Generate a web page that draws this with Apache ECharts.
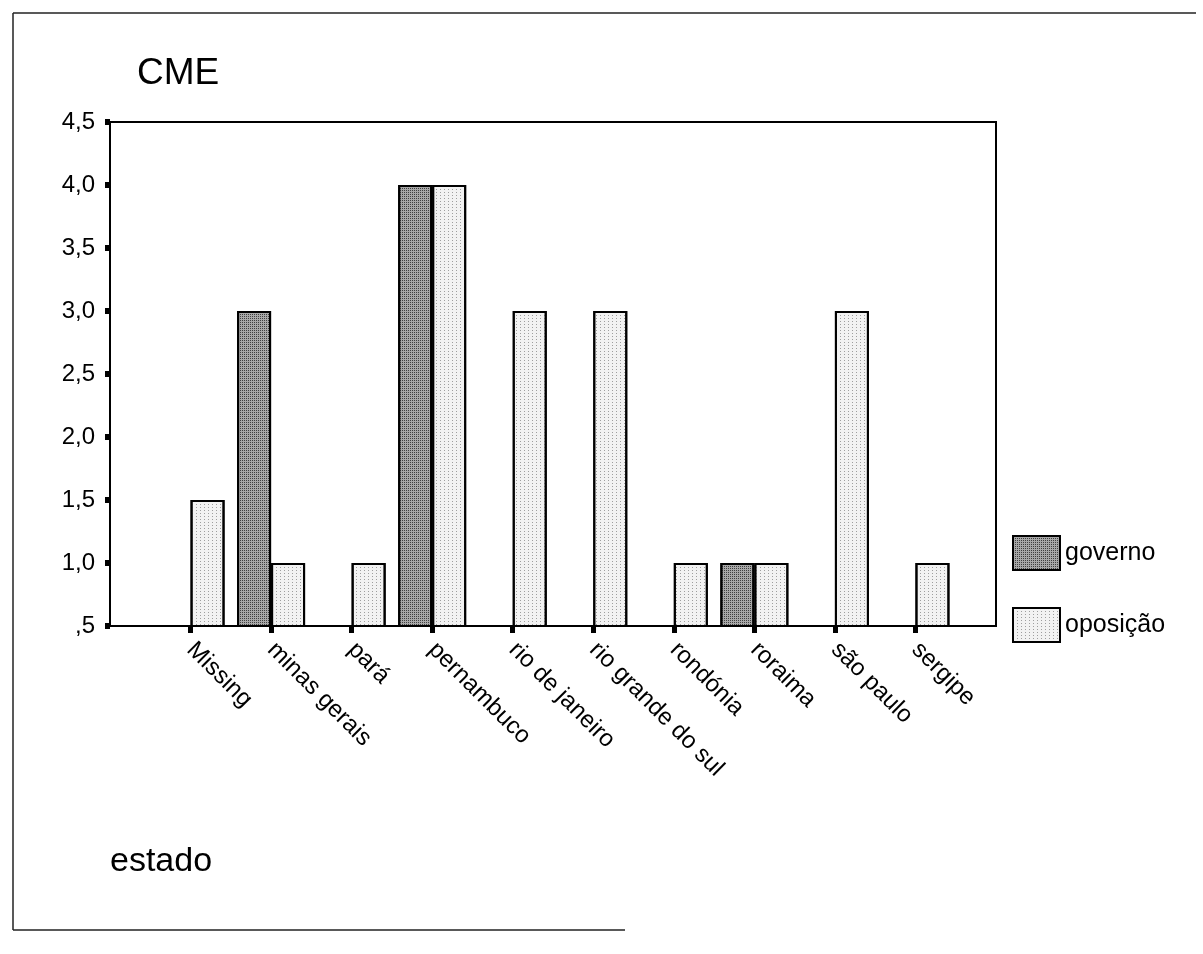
<!DOCTYPE html>
<html>
<head>
<meta charset="utf-8">
<script src="https://cdn.jsdelivr.net/npm/echarts@6/dist/echarts.min.js"></script>
<style>
  html, body { margin: 0; padding: 0; background: #fff; }
  #chart { width: 1203px; height: 954px; }
</style>
</head>
<body>
<div id="chart"></div>
<script>
// States (with blank end slots so the categories sit one step in from the frame)
const estados = ['', 'Missing', 'minas gerais', 'pará', 'pernambuco', 'rio de janeiro',
  'rio grande do sul', 'rondónia', 'roraima', 'são paulo', 'sergipe', ''];

// Mean CME per state, by group
const governo = [null, null, 3.0, null, 4.0, null, null, null, 1.0, null, null, null];
const oposicao = [null, 1.5, 1.0, 1.0, 4.0, 3.0, 3.0, 1.0, 1.0, 3.0, 1.0, null];

// Value-axis ticks
const yTicks = [0.5, 1.0, 1.5, 2.0, 2.5, 3.0, 3.5, 4.0, 4.5];

const FONT = '"Liberation Sans", Arial, sans-serif';

function fmtTick(v) {
  let s = v.toFixed(1).replace('.', ',');
  if (s.startsWith('0,')) s = s.slice(1);
  return s;
}

const chart = echarts.init(document.getElementById('chart'), null, { renderer: 'canvas' });

// Stippled fills for the two groups
const stippleDark = {
  symbol: 'rect', symbolSize: 1, color: 'rgba(30,30,30,0.75)',
  dashArrayX: [1, 1], dashArrayY: [1, 1], rotation: 0
};
const stippleLight = {
  symbol: 'rect', symbolSize: 1, color: 'rgba(90,90,90,0.55)',
  dashArrayX: [1, 3], dashArrayY: [1, 2], rotation: 0
};

chart.setOption({
  animation: false,
  backgroundColor: '#fff',
  textStyle: { fontFamily: FONT, color: '#000' },
  grid: { left: 110, right: 207, top: 122, bottom: 328, show: true,
          borderColor: '#000', borderWidth: 2, backgroundColor: 'transparent' },
  legend: {
    orient: 'vertical', left: 1012, top: 535, padding: 0,
    itemWidth: 47, itemHeight: 34, itemGap: 36,
    icon: 'rect',
    textStyle: { fontFamily: FONT, fontSize: 25, color: '#000', padding: [0, 0, 0, 0] },
    data: ['governo', 'oposição']
  },
  xAxis: {
    type: 'category',
    data: estados,
    boundaryGap: false,
    axisLine: { lineStyle: { color: '#000', width: 2 } },
    axisTick: {
      length: 7, lineStyle: { color: '#000', width: 5 },
      interval: (i) => i > 0 && i < estados.length - 1
    },
    axisLabel: {
      rotate: -45, margin: 20, fontSize: 24, color: '#000', fontFamily: FONT,
      interval: 0
    },
    splitLine: { show: false }
  },
  yAxis: {
    type: 'value',
    min: yTicks[0], max: yTicks[yTicks.length - 1], interval: 0.5,
    axisLine: { show: true, lineStyle: { color: '#000', width: 2 } },
    axisTick: { show: true, length: 5, lineStyle: { color: '#000', width: 6 } },
    axisLabel: { fontSize: 24, color: '#000', margin: 15, fontFamily: FONT, formatter: fmtTick },
    splitLine: { show: false }
  },
  series: [
    {
      name: 'governo', type: 'bar', data: governo,
      barWidth: 34, barGap: '0%',
      itemStyle: { color: '#a8a8a8', borderColor: '#000', borderWidth: 2, decal: stippleDark }
    },
    {
      name: 'oposição', type: 'bar', data: oposicao,
      barWidth: 34, barGap: '0%',
      itemStyle: { color: '#f2f2f2', borderColor: '#000', borderWidth: 2, decal: stippleLight }
    }
  ],
  graphic: [
    { type: 'text', left: 137, top: 55,
      style: { text: 'CME', font: '37px ' + FONT, fill: '#000' } },
    { type: 'text', left: 110, top: 845,
      style: { text: 'estado', font: '34px ' + FONT, fill: '#000' } },
    { type: 'line', shape: { x1: 13, y1: 13, x2: 1196, y2: 13 },
      style: { stroke: '#222', lineWidth: 1.5 } },
    { type: 'line', shape: { x1: 13, y1: 13, x2: 13, y2: 930 },
      style: { stroke: '#222', lineWidth: 1.5 } },
    { type: 'line', shape: { x1: 13, y1: 930, x2: 625, y2: 930 },
      style: { stroke: '#222', lineWidth: 1.5 } }
  ]
});
</script>
</body>
</html>
